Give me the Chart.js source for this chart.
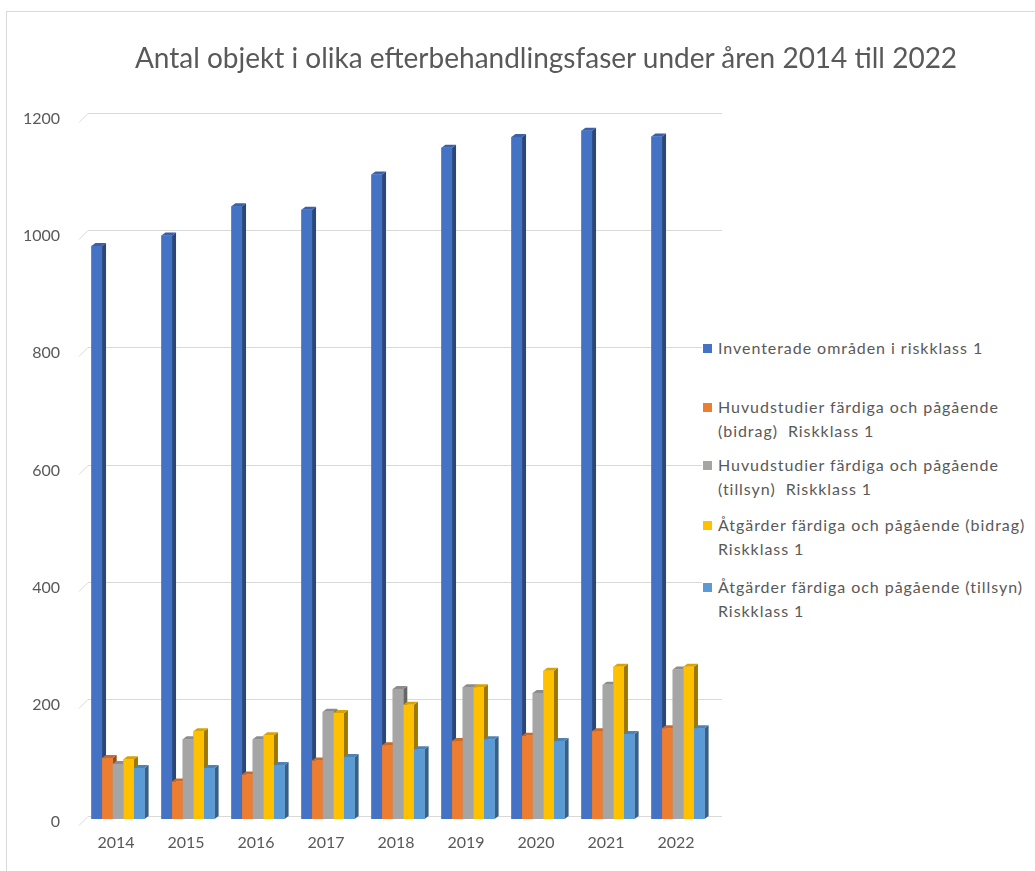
<!DOCTYPE html>
<html lang="sv">
<head>
<meta charset="utf-8">
<title>Antal objekt i olika efterbehandlingsfaser</title>
<script src="https://cdn.jsdelivr.net/npm/chart.js@4/dist/chart.umd.min.js"></script>
<style>
  html, body { margin: 0; padding: 0; background: #fff; }
  #wrap { position: relative; width: 1035px; height: 871px; overflow: hidden; font-family: Lato, sans-serif; color: #595959; }
  #frame { position: absolute; left: 6px; top: 11px; right: -2px; bottom: -2px; border-left: 1px solid #d9d9d9; border-top: 1px solid #d9d9d9; }
  #chart { position: absolute; left: 0; top: 0; }
  #title { position: absolute; left: 0; width: 1092px; top: 40px; text-align: center; font-size: 28px; white-space: nowrap; }
  #legend { position: absolute; left: 702px; top: 336px; width: 333px; height: 300px; background: #fff; font-size: 16px; letter-spacing: 0.95px; }
  .item { position: absolute; left: 0; line-height: 24px; }
  .item i { position: absolute; left: 1px; top: 8px; width: 9px; height: 9px; }
  .item span { display: block; margin-left: 16px; white-space: pre; }
</style>
</head>
<body>
<div id="wrap">
  <div id="frame"></div>
  <canvas id="chart" width="1035" height="871"></canvas>
  <div id="title">Antal objekt i olika efterbehandlingsfaser under åren 2014 till 2022</div>
  <div id="legend"></div>
</div>
<script>
// ─── Data ───
const years = ['2014', '2015', '2016', '2017', '2018', '2019', '2020', '2021', '2022'];
const yTicks = [0, 200, 400, 600, 800, 1000, 1200];

const inventerade = [978, 996, 1046, 1040, 1100, 1146, 1164, 1175, 1165];
const huvudBidrag = [104, 64, 76, 100, 126, 133, 142, 150, 155];
const huvudTillsyn = [94, 136, 136, 183, 222, 225, 215, 229, 255];
const atgBidrag = [102, 150, 143, 181, 195, 225, 253, 260, 260];
const atgTillsyn = [87, 87, 92, 106, 119, 136, 133, 145, 155];

const seriesLabels = [
  ['Inventerade områden i riskklass 1'],
  ['Huvudstudier färdiga och pågående', '(bidrag)  Riskklass 1'],
  ['Huvudstudier färdiga och pågående', '(tillsyn)  Riskklass 1'],
  ['Åtgärder färdiga och pågående (bidrag)', 'Riskklass 1'],
  ['Åtgärder färdiga och pågående (tillsyn)', 'Riskklass 1'],
];
const seriesValues = [inventerade, huvudBidrag, huvudTillsyn, atgBidrag, atgTillsyn];
const seriesColors = ['#4472C4', '#ED7D31', '#A5A5A5', '#FFC000', '#5B9BD5'];

// ─── Helpers ───
function shade(hex, f) {
  const n = parseInt(hex.slice(1), 16);
  const ch = [(n >> 16) & 255, (n >> 8) & 255, n & 255].map(c =>
    Math.round(f < 1 ? c * f : c + (255 - c) * (f - 1)));
  return `rgb(${ch[0]},${ch[1]},${ch[2]})`;
}

const TEXT = '#595959';
const GRID = '#d9d9d9';
const DX = 4, DY = 3;

// back-wall gridlines with the slanted floor edge on the left
const wallGrid = {
  id: 'wallGrid',
  beforeDatasetsDraw(chart) {
    const { ctx, chartArea, scales: { y } } = chart;
    ctx.save();
    ctx.strokeStyle = GRID;
    ctx.lineWidth = 1;
    yTicks.forEach(v => {
      const py = Math.round(y.getPixelForValue(v)) - 2.5;
      ctx.beginPath();
      ctx.moveTo(chartArea.left - 4, py + 9);
      ctx.lineTo(chartArea.left + 5, py);
      ctx.lineTo(chartArea.right + 9, py);
      ctx.stroke();
    });
    ctx.restore();
  },
};

// pseudo-3D columns: side + top face, then the front, series by series
const columns3d = {
  id: 'columns3d',
  afterDatasetsDraw(chart) {
    const { ctx } = chart;
    ctx.save();
    chart.data.datasets.forEach((ds, i) => {
      const meta = chart.getDatasetMeta(i);
      const col = seriesColors[i];
      meta.data.forEach(bar => {
        const { x, y, base, width } = bar.getProps(['x', 'y', 'base', 'width'], true);
        const x0 = x - width / 2, x1 = x + width / 2;
        // side
        ctx.fillStyle = shade(col, 0.62);
        ctx.beginPath();
        ctx.moveTo(x1, y); ctx.lineTo(x1 + DX, y - DY);
        ctx.lineTo(x1 + DX, base - DY); ctx.lineTo(x1, base);
        ctx.closePath(); ctx.fill();
        // top
        ctx.fillStyle = shade(col, 0.85);
        ctx.beginPath();
        ctx.moveTo(x0, y); ctx.lineTo(x1, y);
        ctx.lineTo(x1 + DX, y - DY); ctx.lineTo(x0 + DX, y - DY);
        ctx.closePath(); ctx.fill();
        // front
        ctx.fillStyle = col;
        ctx.fillRect(x0, y, width, base - y);
      });
    });
    ctx.restore();
  },
};

new Chart(document.getElementById('chart'), {
  type: 'bar',
  data: {
    labels: years,
    datasets: seriesValues.map((vals, i) => ({
      label: seriesLabels[i].join(' '),
      data: vals,
      backgroundColor: seriesColors[i],
      categoryPercentage: 0.76,
      barPercentage: 1.0,
    })),
  },
  options: {
    responsive: false,
    animation: false,
    layout: { padding: { left: 0, right: 322, top: 116, bottom: 12 } },
    plugins: {
      legend: { display: false },
      title: { display: false },
      tooltip: { enabled: false },
    },
    scales: {
      x: {
        grid: { display: false },
        border: { display: false },
        ticks: { color: TEXT, font: { family: 'Lato', size: 16 }, padding: 6, labelOffset: -2 },
        afterFit(s) { s.height = 40; },
      },
      y: {
        min: 0,
        max: 1200,
        grid: { display: false },
        border: { display: false },
        afterBuildTicks(s) { s.ticks = yTicks.map(v => ({ value: v })); },
        ticks: {
          color: TEXT,
          font: { family: 'Lato', size: 16 },
          padding: 15,
          labelOffset: 3,
          callback: v => String(v),
        },
        afterFit(s) { s.width = 83; },
      },
    },
  },
  plugins: [wallGrid, columns3d],
});

// ─── Legend ───
const legendTops = [0, 59, 117, 177, 239];
const legend = document.getElementById('legend');
seriesLabels.forEach((lines, i) => {
  const item = document.createElement('div');
  item.className = 'item';
  item.style.top = legendTops[i] + 'px';
  item.innerHTML = `<i style="background:${seriesColors[i]}"></i>` +
    lines.map(t => `<span>${t}</span>`).join('');
  legend.appendChild(item);
});
</script>
</body>
</html>
